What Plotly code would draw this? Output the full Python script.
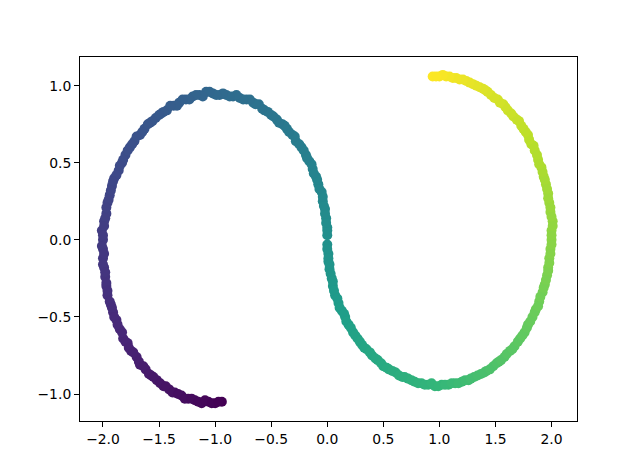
import plotly.graph_objects as go

# Left loop (purple -> teal)
left_x = [0.00, -0.00, -0.01, -0.02, -0.04, -0.05, -0.08, -0.10, -0.13, -0.16,
          -0.19, -0.23, -0.28, -0.31, -0.36, -0.40, -0.45, -0.50, -0.56, -0.61,
          -0.66, -0.72, -0.78, -0.84, -0.90, -0.96, -1.02, -1.08, -1.14, -1.20,
          -1.26, -1.32, -1.37, -1.43, -1.48, -1.53, -1.58, -1.63, -1.67, -1.72,
          -1.76, -1.80, -1.83, -1.86, -1.90, -1.92, -1.94, -1.96, -1.97, -1.99,
          -2.01, -2.00, -2.00, -2.00, -1.99, -1.98, -1.97, -1.96, -1.93, -1.91,
          -1.88, -1.85, -1.82, -1.78, -1.75, -1.70, -1.67, -1.62, -1.57, -1.52,
          -1.46, -1.41, -1.36, -1.30, -1.24, -1.18, -1.12, -1.06, -1.00, -0.94]
left_y = [0.03, 0.08, 0.14, 0.20, 0.25, 0.31, 0.36, 0.41, 0.46, 0.51,
          0.55, 0.60, 0.64, 0.68, 0.72, 0.75, 0.78, 0.81, 0.84, 0.88,
          0.89, 0.91, 0.92, 0.93, 0.94, 0.94, 0.95, 0.96, 0.94, 0.93,
          0.91, 0.89, 0.87, 0.84, 0.82, 0.79, 0.76, 0.72, 0.68, 0.64,
          0.60, 0.55, 0.50, 0.45, 0.40, 0.35, 0.29, 0.24, 0.17, 0.12,
          0.06, -0.00, -0.06, -0.12, -0.18, -0.24, -0.30, -0.36, -0.42, -0.47,
          -0.52, -0.58, -0.64, -0.67, -0.72, -0.76, -0.81, -0.84, -0.88, -0.91,
          -0.95, -0.97, -0.99, -1.01, -1.03, -1.04, -1.06, -1.05, -1.06, -1.05]
left_c = [-0.03, -0.09, -0.15, -0.21, -0.27, -0.33, -0.39, -0.45, -0.51, -0.57,
          -0.63, -0.69, -0.75, -0.81, -0.87, -0.93, -0.99, -1.05, -1.11, -1.17,
          -1.23, -1.29, -1.35, -1.41, -1.47, -1.53, -1.59, -1.65, -1.71, -1.77,
          -1.83, -1.89, -1.95, -2.01, -2.07, -2.13, -2.19, -2.25, -2.31, -2.37,
          -2.43, -2.49, -2.55, -2.61, -2.67, -2.73, -2.79, -2.85, -2.91, -2.97,
          -3.03, -3.09, -3.15, -3.21, -3.27, -3.33, -3.39, -3.45, -3.51, -3.57,
          -3.63, -3.69, -3.75, -3.81, -3.87, -3.93, -3.99, -4.05, -4.11, -4.17,
          -4.23, -4.29, -4.35, -4.41, -4.47, -4.53, -4.59, -4.65, -4.71, -4.77]

# More points of the left loop, lying between those above
left_x2 = [-0.00, -0.01, -0.02, -0.03, -0.04, -0.07, -0.09, -0.12, -0.14, -0.18,
           -0.21, -0.25, -0.29, -0.34, -0.38, -0.43, -0.48, -0.53, -0.58, -0.64,
           -0.69, -0.75, -0.81, -0.87, -0.93, -0.99, -1.05, -1.11, -1.17, -1.23,
           -1.29, -1.34, -1.40, -1.46, -1.50, -1.56, -1.60, -1.65, -1.70, -1.74,
           -1.78, -1.82, -1.85, -1.88, -1.91, -1.93, -1.95, -1.97, -1.98, -1.99,
           -2.00, -2.01, -1.99, -2.00, -1.98, -1.97, -1.96, -1.94, -1.92, -1.90,
           -1.87, -1.83, -1.80, -1.77, -1.73, -1.68, -1.64, -1.59, -1.55, -1.49,
           -1.44, -1.38, -1.33, -1.27, -1.21, -1.15, -1.09, -1.03, -0.97]
left_y2 = [0.06, 0.11, 0.17, 0.22, 0.28, 0.33, 0.39, 0.43, 0.49, 0.53,
           0.58, 0.62, 0.67, 0.70, 0.74, 0.76, 0.80, 0.83, 0.85, 0.88,
           0.91, 0.91, 0.94, 0.93, 0.95, 0.94, 0.96, 0.93, 0.94, 0.91,
           0.91, 0.87, 0.87, 0.83, 0.81, 0.77, 0.75, 0.70, 0.67, 0.62,
           0.58, 0.52, 0.48, 0.42, 0.38, 0.32, 0.26, 0.21, 0.14, 0.09,
           0.03, -0.04, -0.09, -0.16, -0.21, -0.28, -0.33, -0.40, -0.44, -0.50,
           -0.55, -0.60, -0.66, -0.70, -0.73, -0.79, -0.82, -0.87, -0.89, -0.93,
           -0.95, -0.99, -1.00, -1.03, -1.03, -1.05, -1.04, -1.06, -1.05]
left_c2 = [-0.06, -0.12, -0.18, -0.24, -0.30, -0.36, -0.42, -0.48, -0.54, -0.60,
           -0.66, -0.72, -0.78, -0.84, -0.90, -0.96, -1.02, -1.08, -1.14, -1.20,
           -1.26, -1.32, -1.38, -1.44, -1.50, -1.56, -1.62, -1.68, -1.74, -1.80,
           -1.86, -1.92, -1.98, -2.04, -2.10, -2.16, -2.22, -2.28, -2.34, -2.40,
           -2.46, -2.52, -2.58, -2.64, -2.70, -2.76, -2.82, -2.88, -2.94, -3.00,
           -3.06, -3.12, -3.18, -3.24, -3.30, -3.36, -3.42, -3.48, -3.54, -3.60,
           -3.66, -3.72, -3.78, -3.84, -3.90, -3.96, -4.02, -4.08, -4.14, -4.20,
           -4.26, -4.32, -4.38, -4.44, -4.50, -4.56, -4.62, -4.68, -4.74]

# Right loop (teal -> yellow)
right_x = [0.00, 0.01, 0.01, 0.02, 0.04, 0.05, 0.07, 0.10, 0.13, 0.16,
           0.19, 0.23, 0.27, 0.31, 0.35, 0.40, 0.45, 0.50, 0.55, 0.61,
           0.67, 0.72, 0.78, 0.84, 0.90, 0.96, 1.02, 1.08, 1.14, 1.20,
           1.26, 1.31, 1.37, 1.42, 1.48, 1.53, 1.58, 1.63, 1.67, 1.72,
           1.76, 1.79, 1.83, 1.86, 1.89, 1.92, 1.94, 1.96, 1.97, 1.98,
           1.99, 2.00, 2.00, 2.01, 1.99, 1.98, 1.97, 1.95, 1.93, 1.91,
           1.88, 1.85, 1.82, 1.79, 1.75, 1.71, 1.66, 1.61, 1.57, 1.52,
           1.46, 1.41, 1.36, 1.30, 1.24, 1.18, 1.12, 1.06, 1.00, 0.94]
right_y = [-0.03, -0.09, -0.14, -0.19, -0.25, -0.30, -0.36, -0.41, -0.46, -0.50,
           -0.55, -0.60, -0.64, -0.68, -0.71, -0.75, -0.78, -0.82, -0.84, -0.86,
           -0.89, -0.90, -0.92, -0.93, -0.94, -0.95, -0.94, -0.94, -0.93, -0.92,
           -0.91, -0.89, -0.87, -0.85, -0.82, -0.79, -0.76, -0.72, -0.69, -0.64,
           -0.60, -0.55, -0.50, -0.45, -0.40, -0.34, -0.29, -0.23, -0.18, -0.12,
           -0.06, 0.00, 0.06, 0.12, 0.18, 0.24, 0.30, 0.36, 0.41, 0.47,
           0.52, 0.58, 0.62, 0.68, 0.72, 0.77, 0.80, 0.84, 0.88, 0.91,
           0.94, 0.97, 0.99, 1.01, 1.03, 1.04, 1.05, 1.06, 1.06, 1.06]
right_c = [0.03, 0.09, 0.15, 0.21, 0.27, 0.33, 0.39, 0.45, 0.51, 0.57,
           0.63, 0.69, 0.75, 0.81, 0.87, 0.93, 0.99, 1.05, 1.11, 1.17,
           1.23, 1.29, 1.35, 1.41, 1.47, 1.53, 1.59, 1.65, 1.71, 1.77,
           1.83, 1.89, 1.95, 2.01, 2.07, 2.13, 2.19, 2.25, 2.31, 2.37,
           2.43, 2.49, 2.55, 2.61, 2.67, 2.73, 2.79, 2.85, 2.91, 2.97,
           3.03, 3.09, 3.15, 3.21, 3.27, 3.33, 3.39, 3.45, 3.51, 3.57,
           3.63, 3.69, 3.75, 3.81, 3.87, 3.93, 3.99, 4.05, 4.11, 4.17,
           4.23, 4.29, 4.35, 4.41, 4.47, 4.53, 4.59, 4.65, 4.71, 4.77]

# More points of the right loop, lying between those above
right_x2 = [0.00, 0.01, 0.02, 0.03, 0.05, 0.06, 0.09, 0.11, 0.15, 0.17,
            0.21, 0.25, 0.29, 0.33, 0.38, 0.43, 0.48, 0.53, 0.58, 0.64,
            0.69, 0.75, 0.81, 0.87, 0.93, 0.99, 1.05, 1.11, 1.17, 1.23,
            1.28, 1.34, 1.40, 1.45, 1.51, 1.55, 1.60, 1.65, 1.70, 1.74,
            1.78, 1.81, 1.85, 1.88, 1.90, 1.93, 1.95, 1.97, 1.98, 1.99,
            2.00, 2.00, 2.01, 2.00, 1.99, 1.97, 1.96, 1.94, 1.92, 1.89,
            1.87, 1.84, 1.80, 1.77, 1.73, 1.69, 1.64, 1.59, 1.54, 1.49,
            1.43, 1.39, 1.33, 1.27, 1.21, 1.15, 1.09, 1.03, 0.97]
right_y2 = [-0.06, -0.12, -0.16, -0.22, -0.27, -0.33, -0.38, -0.44, -0.48, -0.53,
            -0.57, -0.62, -0.66, -0.70, -0.73, -0.77, -0.80, -0.83, -0.85, -0.88,
            -0.89, -0.91, -0.93, -0.94, -0.93, -0.95, -0.94, -0.93, -0.93, -0.91,
            -0.90, -0.88, -0.86, -0.84, -0.80, -0.78, -0.74, -0.71, -0.66, -0.62,
            -0.57, -0.53, -0.47, -0.43, -0.37, -0.31, -0.26, -0.20, -0.15, -0.09,
            -0.03, 0.03, 0.09, 0.15, 0.21, 0.27, 0.33, 0.39, 0.44, 0.49,
            0.55, 0.61, 0.65, 0.70, 0.74, 0.78, 0.82, 0.86, 0.89, 0.92,
            0.96, 0.98, 1.00, 1.02, 1.04, 1.05, 1.06, 1.07, 1.06]
right_c2 = [0.06, 0.12, 0.18, 0.24, 0.30, 0.36, 0.42, 0.48, 0.54, 0.60,
            0.66, 0.72, 0.78, 0.84, 0.90, 0.96, 1.02, 1.08, 1.14, 1.20,
            1.26, 1.32, 1.38, 1.44, 1.50, 1.56, 1.62, 1.68, 1.74, 1.80,
            1.86, 1.92, 1.98, 2.04, 2.10, 2.16, 2.22, 2.28, 2.34, 2.40,
            2.46, 2.52, 2.58, 2.64, 2.70, 2.76, 2.82, 2.88, 2.94, 3.00,
            3.06, 3.12, 3.18, 3.24, 3.30, 3.36, 3.42, 3.48, 3.54, 3.60,
            3.66, 3.72, 3.78, 3.84, 3.90, 3.96, 4.02, 4.08, 4.14, 4.20,
            4.26, 4.32, 4.38, 4.44, 4.50, 4.56, 4.62, 4.68, 4.74]

x_tick_vals = [-2.0, -1.5, -1.0, -0.5, 0.0, 0.5, 1.0, 1.5, 2.0]
x_tick_text = ["\u22122.0", "\u22121.5", "\u22121.0", "\u22120.5", "0.0", "0.5", "1.0", "1.5", "2.0"]
y_tick_vals = [-1.0, -0.5, 0.0, 0.5, 1.0]
y_tick_text = ["\u22121.0", "\u22120.5", "0.0", "0.5", "1.0"]

xs = left_x + left_x2 + right_x + right_x2
ys = left_y + left_y2 + right_y + right_y2
cs = left_c + left_c2 + right_c + right_c2

fig = go.Figure(go.Scatter(
    x=xs, y=ys, mode="markers",
    marker=dict(size=10, color=cs, colorscale="Viridis",
                cmin=min(cs), cmax=max(cs), showscale=False,
                line=dict(width=0)),
    hoverinfo="skip",
))

axis_common = dict(
    showline=True, linecolor="black", linewidth=1, mirror=True,
    ticks="outside", ticklen=5, tickwidth=1, tickcolor="black",
    showgrid=False, zeroline=False,
    tickfont=dict(family="DejaVu Sans", size=13.9, color="black"),
)

fig.update_layout(
    width=640, height=473,
    margin=dict(l=80, r=63, t=57, b=52),
    paper_bgcolor="white", plot_bgcolor="white",
    showlegend=False,
    hovermode=False,
    xaxis=dict(range=[-2.205, 2.227], tickvals=x_tick_vals, ticktext=x_tick_text, **axis_common),
    yaxis=dict(range=[-1.175, 1.186], tickvals=y_tick_vals, ticktext=y_tick_text, **axis_common),
)

fig.write_html("out.html", config={"displayModeBar": False},
               post_script="document.body.style.margin='0px';")
